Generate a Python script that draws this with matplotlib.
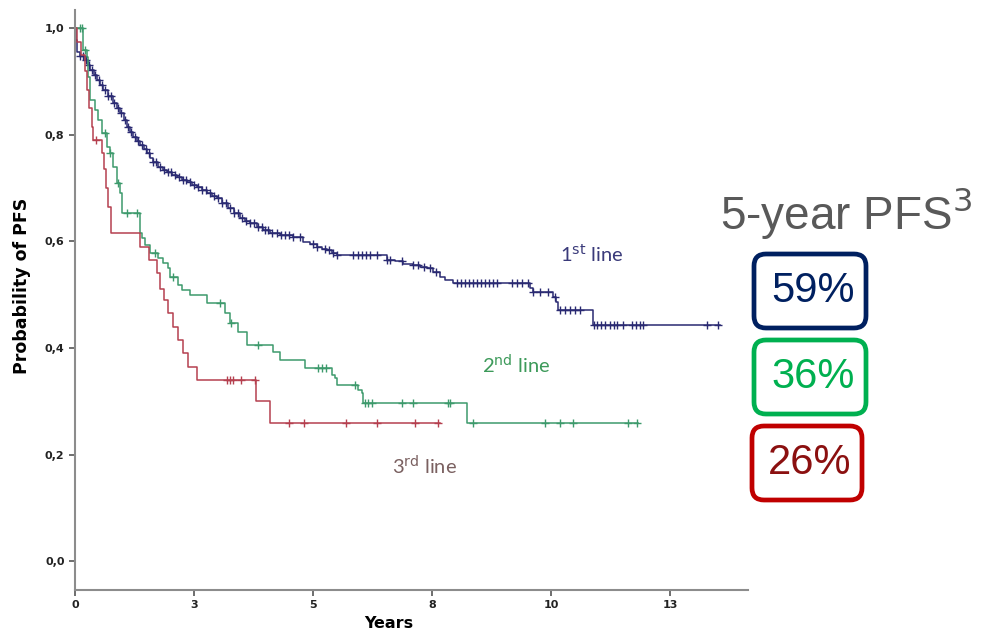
import numpy as np
import matplotlib.pyplot as plt
from matplotlib.patches import FancyBboxPatch

# Kaplan-Meier steps: drop times (years) and level after each drop
t1 = [0.02, 0.04, 0.11, 0.21, 0.27, 0.32, 0.40, 0.46, 0.53, 0.59, 0.69, 0.80, 0.88, 0.95,
      1.03, 1.09, 1.16, 1.22, 1.30, 1.37, 1.45, 1.51, 1.58, 1.64, 1.74, 1.85, 1.93, 2.04,
      2.14, 2.25, 2.35, 2.46, 2.56, 2.67, 2.77, 2.88, 2.98, 3.09, 3.21, 3.34, 3.47, 3.57,
      3.68, 3.82, 3.95, 4.10, 4.31, 4.58, 4.79, 4.94, 5.08, 5.19, 5.29, 5.40, 5.50, 6.55,
      6.72, 6.89, 7.10, 7.25, 7.39, 7.52, 7.67, 7.77, 7.94, 9.56, 9.62, 10.04, 10.11, 10.15,
      10.88]
s1 = [0.977, 0.955, 0.947, 0.940, 0.931, 0.921, 0.912, 0.902, 0.893, 0.884, 0.872, 0.859,
      0.850, 0.841, 0.827, 0.814, 0.805, 0.795, 0.788, 0.780, 0.773, 0.765, 0.756, 0.749,
      0.739, 0.734, 0.730, 0.724, 0.720, 0.715, 0.711, 0.705, 0.702, 0.696, 0.690, 0.685,
      0.681, 0.672, 0.662, 0.653, 0.644, 0.638, 0.634, 0.627, 0.621, 0.615, 0.612, 0.608,
      0.598, 0.595, 0.589, 0.585, 0.583, 0.578, 0.574, 0.565, 0.563, 0.557, 0.555, 0.552,
      0.550, 0.542, 0.533, 0.527, 0.522, 0.512, 0.505, 0.495, 0.486, 0.471, 0.443]
end1 = 13.55
c1 = [0.11, 0.17, 0.23, 0.29, 0.36, 0.42, 0.50, 0.57, 0.63, 0.69, 0.76, 0.82, 0.90, 0.97,
      1.05, 1.11, 1.18, 1.26, 1.32, 1.41, 1.49, 1.55, 1.64, 1.70, 1.79, 1.87, 1.95, 2.02,
      2.10, 2.18, 2.27, 2.33, 2.42, 2.50, 2.58, 2.67, 2.75, 2.84, 2.92, 3.00, 3.09, 3.17,
      3.26, 3.34, 3.42, 3.51, 3.59, 3.68, 3.76, 3.84, 3.93, 3.99, 4.05, 4.14, 4.24, 4.33,
      4.41, 4.50, 4.58, 4.73, 5.00, 5.08, 5.25, 5.34, 5.42, 5.50, 5.84, 5.95, 6.03, 6.11,
      6.20, 6.34, 6.55, 6.62, 6.87, 7.10, 7.21, 7.33, 7.46, 7.58, 8.03, 8.11, 8.19, 8.28,
      8.36, 8.45, 8.53, 8.61, 8.70, 8.78, 8.87, 9.18, 9.29, 9.39, 9.52, 9.62, 9.77, 9.94,
      10.08, 10.19, 10.29, 10.40, 10.50, 10.61, 10.90, 10.97, 11.05, 11.13, 11.24, 11.32,
      11.39, 11.51, 11.70, 11.79, 11.87, 11.93, 13.28, 13.51]

t2 = [0.17, 0.25, 0.27, 0.32, 0.42, 0.48, 0.57, 0.67, 0.74, 0.80, 0.88, 0.95, 0.99, 1.37,
      1.41, 1.47, 1.58, 1.74, 1.85, 1.95, 2.00, 2.16, 2.25, 2.42, 2.77, 3.15, 3.26, 3.42,
      3.61, 4.16, 4.31, 4.83, 5.40, 5.46, 5.50, 5.95, 6.03, 6.05, 8.24]
s2 = [0.959, 0.946, 0.908, 0.865, 0.846, 0.827, 0.803, 0.777, 0.765, 0.739, 0.709, 0.690,
      0.653, 0.615, 0.606, 0.593, 0.578, 0.568, 0.559, 0.550, 0.533, 0.518, 0.508, 0.499,
      0.484, 0.465, 0.447, 0.430, 0.405, 0.392, 0.377, 0.362, 0.349, 0.343, 0.330, 0.321,
      0.315, 0.296, 0.259]
end2 = 11.83
c2 = [0.10, 0.15, 0.21, 0.63, 0.74, 0.90, 1.09, 1.30, 1.68, 2.06, 3.05, 3.27, 3.84, 5.10,
      5.19, 5.27, 5.88, 6.09, 6.16, 6.24, 6.87, 7.10, 7.84, 7.88, 8.36, 9.87, 10.19, 10.46,
      11.62, 11.81]

t3 = [0.05, 0.12, 0.20, 0.25, 0.30, 0.35, 0.38, 0.56, 0.60, 0.65, 0.70, 0.76, 1.37, 1.55,
      1.72, 1.79, 1.88, 1.95, 2.06, 2.16, 2.27, 2.37, 2.56, 3.80, 4.10]
s3 = [0.975, 0.950, 0.920, 0.885, 0.850, 0.815, 0.790, 0.765, 0.735, 0.700, 0.665, 0.615,
      0.590, 0.565, 0.540, 0.510, 0.490, 0.465, 0.440, 0.415, 0.390, 0.365, 0.340, 0.300,
      0.259]
end3 = 7.67
c3 = [0.45, 3.19, 3.26, 3.32, 3.49, 3.79, 4.50, 4.81, 5.69, 6.34, 7.14, 7.63]

x_ticks = [0, 2.5, 5, 7.5, 10, 12.5]
x_labels = ['0', '3', '5', '8', '10', '13']
y_ticks = [0.0, 0.2, 0.4, 0.6, 0.8, 1.0]
y_labels = ['0,0', '0,2', '0,4', '0,6', '0,8', '1,0']

pfs_labels = ['59%', '36%', '26%']


def km(ax, drops, levels, end, cens, color):
    times = np.array([0.0] + drops + [end])
    surv = np.array([1.0] + levels + [levels[-1]])
    ax.step(times, surv, where='post', color=color, lw=1.1)
    idx = np.searchsorted(times, cens, side='right') - 1
    ax.plot(cens, surv[idx], ls='none', marker='+', ms=6, mew=1.0, color=color)


fig = plt.figure(figsize=(9.82, 6.32), dpi=100)
ax = fig.add_axes([0.0764, 0.0665, 0.6853, 0.9175])

km(ax, t1, s1, end1, c1, '#2a2a72')
km(ax, t2, s2, end2, c2, '#3d9a6c')
km(ax, t3, s3, end3, c3, '#b5404f')

ax.set_xlim(0, 14.14)
ax.set_ylim(-0.054, 1.034)
ax.set_xticks(x_ticks)
ax.set_xticklabels(x_labels)
ax.set_yticks(y_ticks)
ax.set_yticklabels(y_labels)
for s in ['top', 'right']:
    ax.spines[s].set_visible(False)
for s in ['left', 'bottom']:
    ax.spines[s].set_color('#8c8c8c')
    ax.spines[s].set_linewidth(1.5)
ax.tick_params(colors='#555555', labelcolor='#222222', labelsize=8, length=4, width=1.2)
for lab in ax.get_xticklabels() + ax.get_yticklabels():
    lab.set_fontweight('bold')
ax.set_ylabel('Probability of PFS', fontsize=12.5, fontweight='bold')
ax.yaxis.set_label_coords(-0.066, 0.525)
ax.set_xlabel('Years', fontsize=11.5, fontweight='bold')
ax.xaxis.set_label_coords(0.466, -0.045)

ax.text(10.2, 0.562, r'1$^{\mathrm{st}}$ line', fontsize=14.5, color='#3a3a7a', family='Lato')
ax.text(8.55, 0.352, r'2$^{\mathrm{nd}}$ line', fontsize=14.5, color='#3d9a5a', family='Lato')
ax.text(6.65, 0.162, r'3$^{\mathrm{rd}}$ line', fontsize=14.5, color='#7a6060', family='Lato')

# right-hand panel
fig.text(8.46 / 9.82, 1 - 2.13 / 6.32, r'5-year PFS$^{3}$', fontsize=33, color='#595959',
         family='Liberation Sans', ha='center', va='center')

boxes = [(7.54, 3.04, 1.12, '#002060', '#002060'),
         (7.54, 2.18, 1.12, '#00b050', '#00b050'),
         (7.52, 1.32, 1.10, '#c00000', '#8b1010')]
for (bx, by, bw, edge, tc), lab in zip(boxes, pfs_labels):
    p = FancyBboxPatch((bx, by), bw, 0.74, boxstyle='round,pad=0,rounding_size=0.12',
                       transform=fig.dpi_scale_trans, fc='white', ec=edge, lw=3.4)
    fig.add_artist(p)
    fig.text((bx + bw / 2 + 0.03) / 9.82, (by + 0.37) / 6.32, lab, fontsize=30, color=tc,
             family='Liberation Sans', ha='center', va='center')

fig.savefig('out.png', dpi=100)
